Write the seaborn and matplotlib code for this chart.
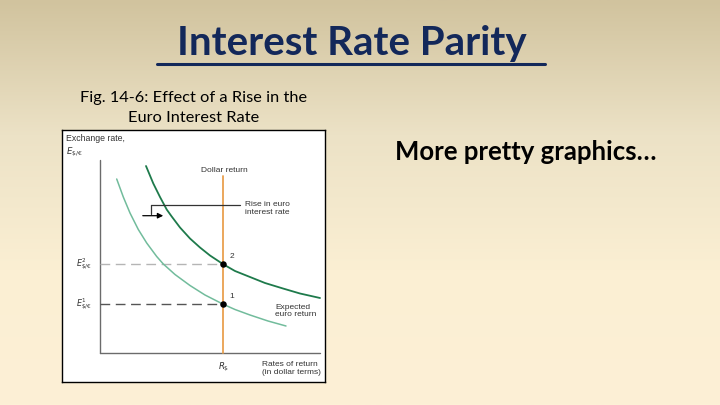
import numpy as np
import pandas as pd
import matplotlib
matplotlib.use("Agg")
import matplotlib.pyplot as plt
from matplotlib.colors import LinearSegmentedColormap
import seaborn as sns

# Values (chart units: origin at the axes corner)
curve_high_x = [46, 53.3, 60, 66.7, 71.7, 80, 90, 100, 110, 123.3, 135, 150, 165, 183, 200, 220]
curve_high_y = [187, 169.5, 156, 143.5, 136.5, 125.5, 114.5, 105.5, 97.5, 88.7, 82, 76, 70, 64.5, 59.5, 55]
curve_low_x = [16.7, 23.3, 30, 38.3, 46.7, 56.7, 63.3, 75, 90, 105, 123.3, 135, 150, 168, 186]
curve_low_y = [174, 156, 140, 123.5, 110, 96.5, 89, 78.5, 67.5, 58, 48.7, 43.5, 38, 32, 27]
r_dollar = 123.3
e_levels = [48.7, 88.7]
e_labels = [r"$E^{1}_{\$/€}$", r"$E^{2}_{\$/€}$"]
point_labels = ["1", "2"]

high = pd.DataFrame({"x": curve_high_x, "y": curve_high_y})
low = pd.DataFrame({"x": curve_low_x, "y": curve_low_y})
pts = pd.DataFrame({"x": [r_dollar, r_dollar], "y": e_levels, "lab": point_labels})

sns.set_theme(style="white")
plt.rcParams["font.family"] = ["Lato", "DejaVu Sans"]
plt.rcParams["mathtext.fontset"] = "dejavusans"

fig = plt.figure(figsize=(7.2, 4.05), dpi=100)

# slide background gradient
bg = fig.add_axes([0, 0, 1, 1])
cmap = LinearSegmentedColormap.from_list("slide", ["#d1c39e", "#ece2c6", "#fbefd3", "#fdf0d6"])
bg.imshow(np.linspace(0, 1, 256).reshape(-1, 1), aspect="auto", cmap=cmap,
          extent=[0, 1, 0, 1], transform=bg.transAxes)
bg.set_axis_off()

fig.text(0.488, 1 - 43 / 405, "Interest Rate Parity", ha="center", va="center",
         fontsize=29, fontweight="bold", color="#13285a")
fig.add_artist(plt.Line2D([157 / 720, 545 / 720], [1 - 64 / 405, 1 - 64 / 405],
                          color="#13285a", lw=2.2))
fig.text(194 / 720, 1 - 98 / 405, "Fig. 14-6: Effect of a Rise in the", ha="center",
         va="center", fontsize=11.8, color="black")
fig.text(194 / 720, 1 - 118 / 405, "Euro Interest Rate", ha="center",
         va="center", fontsize=11.8, color="black")
fig.text(395 / 720, 1 - 152 / 405, "More pretty graphics…", ha="left", va="center",
         fontsize=18.5, fontweight="bold", color="black")

# chart panel
ax = fig.add_axes([62 / 720, 1 - 382 / 405, 263 / 720, 252 / 405])
ax.set_facecolor("white")
ax.set_xlim(-38, 225)
ax.set_ylim(-29, 223)
ax.set_xticks([])
ax.set_yticks([])
for s in ax.spines.values():
    s.set_color("black")
    s.set_linewidth(1.0)

chart_font = ["Liberation Sans", "DejaVu Sans"]
txt_col = "#333333"
axis_col = "#6b6b6b"
ax.plot([0, 0], [0, 193], color=axis_col, lw=1)
ax.plot([0, 220], [0, 0], color=axis_col, lw=1)

# dashed guides
ax.plot([0, r_dollar], [e_levels[1]] * 2, color="#b5b5b5", lw=1, dashes=(7, 4))
ax.plot([0, r_dollar], [e_levels[0]] * 2, color="#555555", lw=1, dashes=(7, 4))

ax.plot([r_dollar, r_dollar], [0, 177], color="#e9a04f", lw=1.3)

sns.lineplot(data=low, x="x", y="y", ax=ax, color="#72bc9c", lw=1.1, sort=False)
sns.lineplot(data=high, x="x", y="y", ax=ax, color="#1e7a4b", lw=1.3, sort=False)
sns.scatterplot(data=pts, x="x", y="y", ax=ax, color="black", s=22, zorder=5,
                edgecolor="black", linewidth=0)
for _, r in pts.iterrows():
    ax.text(r["x"] + 6, r["y"] + 6, r["lab"], fontsize=6, family=chart_font,
            color=txt_col)

for lv, lab in zip(e_levels, e_labels):
    ax.text(-8, lv, lab, ha="right", va="center", fontsize=5.8, color=txt_col)

# bracket + shift arrow
ax.plot([50.7, 50.7], [139, 148], color=txt_col, lw=0.9)
ax.plot([50.7, 140], [148, 148], color=txt_col, lw=0.9)
ax.annotate("", xy=(66, 137.3), xytext=(40, 137.3),
            arrowprops=dict(arrowstyle="-|>", color="black", lw=0.9,
                            mutation_scale=8))

ax.text(-34, 219, "Exchange rate,", ha="left", va="top", fontsize=6.3,
        family=chart_font, color=txt_col)
ax.text(-34, 207, r"$E_{\$/€}$", ha="left", va="top", fontsize=6.2, color=txt_col)
ax.text(124, 179, "Dollar return", ha="center", va="bottom", fontsize=6,
        family=chart_font, color=txt_col)
ax.text(145, 152, "Rise in euro\ninterest rate", ha="left", va="top", fontsize=6,
        family=chart_font, color=txt_col, linespacing=1.1)
ax.text(175, 49, "Expected\neuro return", ha="left", va="top", fontsize=6,
        family=chart_font, color=txt_col, linespacing=1.1)
ax.text(r_dollar, -14, r"$R_{\$}$", ha="center", va="center", fontsize=6.2,
        color=txt_col)
ax.text(162, -8, "Rates of return\n(in dollar terms)", ha="left", va="top",
        fontsize=6, family=chart_font, color=txt_col, linespacing=1.1)
ax.set_xlabel("")
ax.set_ylabel("")

fig.savefig("out.png", dpi=100)
